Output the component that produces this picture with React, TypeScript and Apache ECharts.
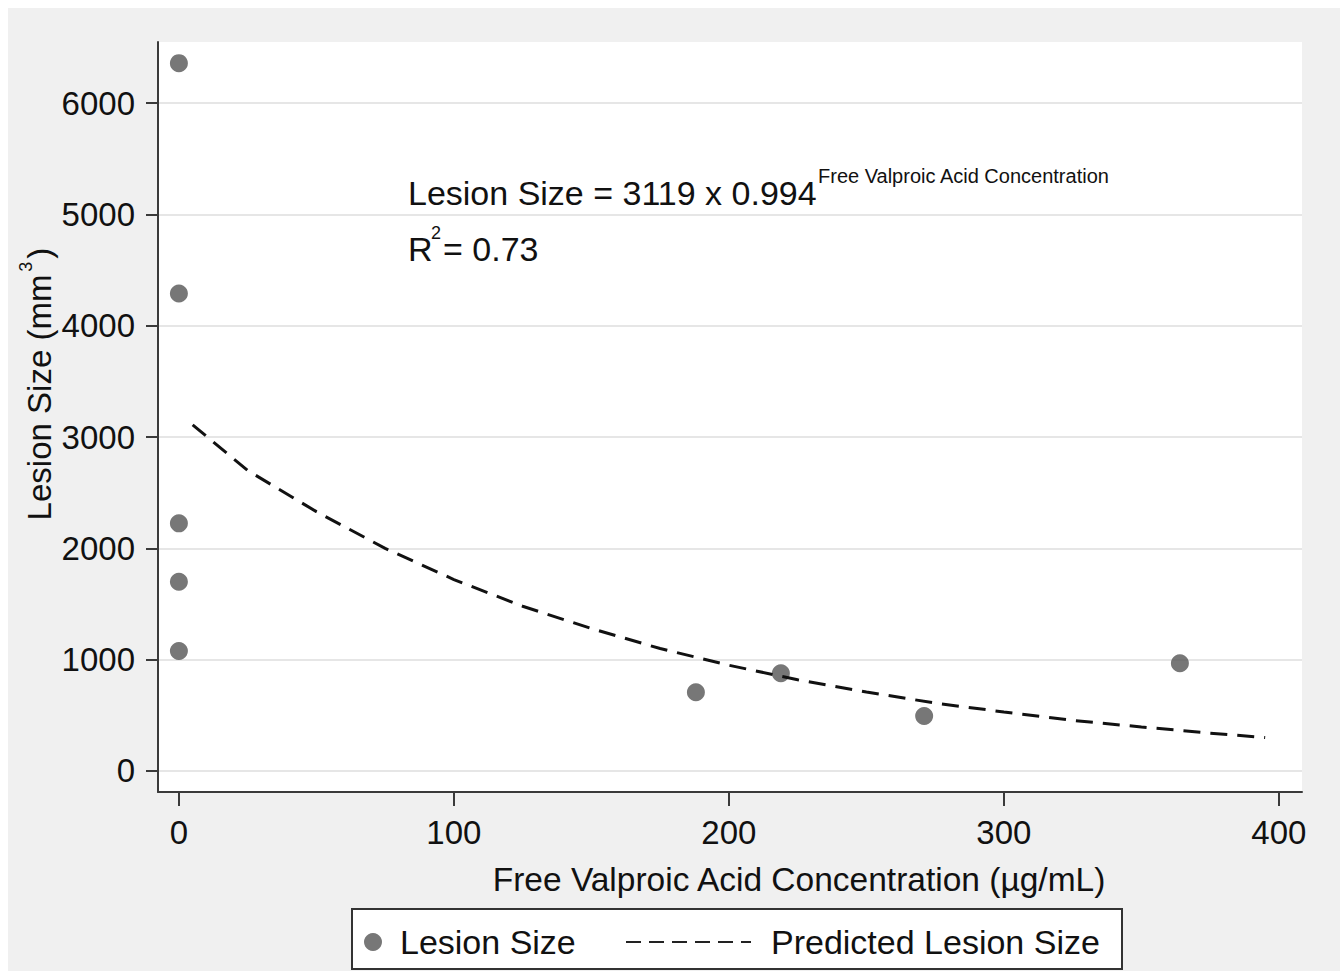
import React, { useEffect, useRef } from "react";
import * as echarts from "echarts";

const FONT = "'Liberation Sans', Arial, Helvetica, sans-serif";

const xTicks = [0, 100, 200, 300, 400];
const yTicks = [0, 1000, 2000, 3000, 4000, 5000, 6000];

// observed data
const concentration = [0, 0, 0, 0, 0, 188.0, 218.9, 271.0, 364.0];
const lesionSize = [6360, 4290, 2225, 1700, 1078, 707, 878, 494, 968];

// predicted curve
const predX = [5, 25, 50, 75, 100, 125, 150, 175, 200, 225, 250, 275, 300, 325, 350, 375, 395];
const predY = [3110, 2700, 2330, 2000, 1720, 1480, 1280, 1100, 950, 820, 710, 610, 530, 455, 395, 340, 300];

export default function App() {
  const ref = useRef<HTMLDivElement>(null);

  useEffect(() => {
    if (!ref.current) return;
    const chart = echarts.init(ref.current, undefined, { renderer: "svg" });

    const scatterData = concentration.map((x, i) => [x, lesionSize[i]]);
    const lineData = predX.map((x, i) => [x, predY[i]]);

    const axisColor = "#3a3a3a";
    const textColor = "#111";
    const plain = (v: number) => String(v);

    chart.setOption({
      animation: false,
      backgroundColor: "#f0f0f0",
      textStyle: { fontFamily: FONT },
      grid: {
        left: 150,
        top: 34,
        right: 38,
        bottom: 179,
        show: true,
        backgroundColor: "#ffffff",
        borderWidth: 0,
      },
      xAxis: {
        type: "value",
        min: -7.6,
        max: 408.4,
        axisLine: { show: true, onZero: false, lineStyle: { color: axisColor, width: 2 } },
        axisTick: { show: true, customValues: xTicks, length: 14, lineStyle: { color: axisColor, width: 2 } },
        axisLabel: { customValues: xTicks, formatter: plain, margin: 24, fontSize: 33, color: textColor, fontFamily: FONT },
        splitLine: { show: false },
      },
      yAxis: {
        type: "value",
        min: -189,
        max: 6550,
        axisLine: { show: true, onZero: false, lineStyle: { color: axisColor, width: 2 } },
        axisTick: { show: true, customValues: yTicks, length: 12, lineStyle: { color: axisColor, width: 2 } },
        axisLabel: { customValues: yTicks, formatter: plain, margin: 23, fontSize: 33, color: textColor, fontFamily: FONT },
        splitLine: { show: true, lineStyle: { color: "#e6e6e6", width: 2 } },
      },
      legend: [
        {
          data: ["Lesion Size"],
          left: 356,
          top: 917,
          padding: 0,
          itemWidth: 18,
          itemHeight: 18,
          selectedMode: false,
          textStyle: { fontSize: 34, color: textColor, fontFamily: FONT, padding: [0, 0, 0, 13] },
        },
        {
          data: ["Predicted Lesion Size"],
          left: 617,
          top: 917,
          padding: 0,
          itemWidth: 125,
          itemHeight: 18,
          selectedMode: false,
          itemStyle: { opacity: 0 },
          lineStyle: { width: 2, type: [15, 8], color: "#222" },
          textStyle: { fontSize: 34, color: textColor, fontFamily: FONT, padding: [0, 0, 0, 15] },
        },
      ],
      series: [
        {
          name: "Lesion Size",
          type: "scatter",
          data: scatterData,
          symbol: "circle",
          symbolSize: 18,
          itemStyle: { color: "#555555" },
          z: 2,
        },
        {
          name: "Predicted Lesion Size",
          type: "line",
          data: lineData,
          symbol: "none",
          showSymbol: false,
          itemStyle: { color: "#111" },
          lineStyle: { color: "#111", width: 3, type: [17, 10] },
          z: 3,
        },
      ],
      graphic: {
        elements: [
          {
            type: "rect",
            z: 1,
            shape: { x: 344, y: 901, width: 770, height: 60 },
            style: { fill: "#ffffff", stroke: "#333", lineWidth: 2 },
          },
          {
            type: "text",
            z: 10,
            x: 400,
            y: 185,
            style: {
              text: "Lesion Size = 3119 x 0.994",
              fontSize: 34,
              fontFamily: FONT,
              fill: textColor,
              align: "left",
              verticalAlign: "middle",
            },
          },
          {
            type: "text",
            z: 10,
            x: 810,
            y: 168,
            style: {
              text: "Free Valproic Acid Concentration",
              fontSize: 20,
              fontFamily: FONT,
              fill: textColor,
              align: "left",
              verticalAlign: "middle",
            },
          },
          {
            type: "text",
            z: 10,
            x: 400,
            y: 241,
            style: {
              text: "R",
              fontSize: 34,
              fontFamily: FONT,
              fill: textColor,
              align: "left",
              verticalAlign: "middle",
            },
          },
          {
            type: "text",
            z: 10,
            x: 423,
            y: 225,
            style: {
              text: "2",
              fontSize: 18,
              fontFamily: FONT,
              fill: textColor,
              align: "left",
              verticalAlign: "middle",
            },
          },
          {
            type: "text",
            z: 10,
            x: 435,
            y: 241,
            style: {
              text: "= 0.73",
              fontSize: 34,
              fontFamily: FONT,
              fill: textColor,
              align: "left",
              verticalAlign: "middle",
            },
          },
          {
            type: "text",
            z: 10,
            x: 791,
            y: 871,
            style: {
              text: "Free Valproic Acid Concentration (µg/mL)",
              fontSize: 33.5,
              fontFamily: FONT,
              fill: textColor,
              align: "center",
              verticalAlign: "middle",
            },
          },
          {
            type: "text",
            z: 10,
            x: 31,
            y: 376,
            rotation: Math.PI / 2,
            style: {
              text: "{a|Lesion Size (mm}{s|3}{a|)}",
              fill: textColor,
              align: "center",
              verticalAlign: "middle",
              rich: {
                a: { fontSize: 33, fontFamily: FONT, fill: textColor, lineHeight: 44, verticalAlign: "middle" },
                s: { fontSize: 18, fontFamily: FONT, fill: textColor, lineHeight: 18, verticalAlign: "top", padding: [0, 3, 0, 3] },
              },
            },
          },
        ],
      },
    });

    return () => chart.dispose();
  }, []);

  return (
    <div
      ref={ref}
      style={{ position: "absolute", left: 8, top: 8, width: 1332, height: 963 }}
    />
  );
}
